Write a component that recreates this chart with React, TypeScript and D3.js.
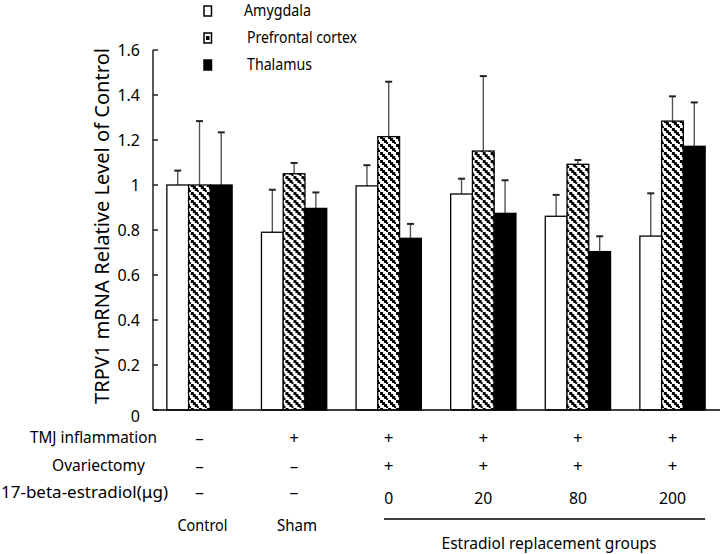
import React from "react";
import * as d3 from "d3";

const groups = ["Control", "Sham", "E0", "E20", "E80", "E200"];
const seriesNames = ["Amygdala", "Prefrontal cortex", "Thalamus"];
const amygdala = [1.0, 0.79, 0.996, 0.96, 0.861, 0.773];
const amygdalaErr = [1.064, 0.979, 1.088, 1.028, 0.956, 0.963];
const prefrontal = [1.0, 1.05, 1.215, 1.151, 1.092, 1.284];
const prefrontalErr = [1.284, 1.098, 1.459, 1.484, 1.111, 1.394];
const thalamus = [1.0, 0.896, 0.763, 0.874, 0.704, 1.172];
const thalamusErr = [1.234, 0.967, 0.827, 1.021, 0.772, 1.367];
const yTicks = [0, 0.2, 0.4, 0.6, 0.8, 1, 1.2, 1.4, 1.6];
const rowLabels = ["TMJ inflammation", "Ovariectomy", "17-beta-estradiol(\u03bcg)"];
const tmjRow = ["\u2013", "+", "+", "+", "+", "+"];
const ovxRow = ["\u2013", "\u2013", "+", "+", "+", "+"];
const doseRow = ["\u2013", "\u2013", "0", "20", "80", "200"];
const groupNames = ["Control", "Sham"];
const bracketLabel = "Estradiol replacement groups";

const values = [amygdala, prefrontal, thalamus];
const errs = [amygdalaErr, prefrontalErr, thalamusErr];

const FONT = "'Noto Sans', 'Open Sans', sans-serif";
const rowLabelStart = [30, 52, 1];
const rowLabelLen = [127, 93, 167];
const rowY = [443, 471, 498];
const legendLen = [67, 110, 65];

export default function App() {
  const W = 720, H = 554;
  const y = d3.scaleLinear().domain([0, 1.6]).range([410, 50]);
  const x = d3.scaleBand<string>().domain(groups).range([152, 720]).paddingInner(0.31).paddingOuter(0.157);
  const xs = d3.scaleBand<string>().domain(seriesNames).range([0, x.bandwidth()]);
  const fills = ["#fff", "url(#hatch)", "#000"];
  const cx = (g: string) => (x(g) as number) + x.bandwidth() / 2;

  return (
    <svg width={W} height={H} style={{ position: "absolute", left: 0, top: 0, background: "#fff" }} fontFamily={FONT}>
      <defs>
        <pattern id="hatch" patternUnits="userSpaceOnUse" width={8} height={8}>
          <rect width={8} height={8} fill="#fff" />
          <rect x={0} y={0} width={3} height={3} fill="#000" />
          <rect x={2} y={2} width={3} height={3} fill="#000" />
          <rect x={4} y={4} width={3} height={3} fill="#000" />
          <rect x={6} y={6} width={2} height={2} fill="#000" />
        </pattern>
      </defs>

      {/* y axis */}
      <line x1={153} x2={153} y1={y(1.6)} y2={y(0)} stroke="#000" strokeWidth={1.3} />
      {yTicks.map((t) => (
        <g key={t}>
          <line x1={153} x2={158} y1={y(t)} y2={y(t)} stroke="#000" strokeWidth={1.3} />
          <text x={140} y={y(t) + (t === 0 ? 12 : 6)} textAnchor="end" fontSize={16}>
            {String(t)}
          </text>
        </g>
      ))}
      <text transform={`translate(109,226) rotate(-90)`} textAnchor="middle" fontSize={20} textLength={356} lengthAdjust="spacingAndGlyphs">
        TRPV1 mRNA Relative Level of Control
      </text>

      {/* bars */}
      {groups.map((g, gi) => (
        <g key={g} transform={`translate(${x(g)},0)`}>
          {seriesNames.map((s, si) => {
            const v = values[si][gi];
            const e = errs[si][gi];
            const bx = xs(s) as number;
            const mid = bx + xs.bandwidth() / 2;
            return (
              <g key={s}>
                <line x1={mid} x2={mid} y1={y(v)} y2={y(e)} stroke="#555" strokeWidth={1.4} />
                <line x1={mid - 3.5} x2={mid + 3.5} y1={y(e)} y2={y(e)} stroke="#222" strokeWidth={2} />
                <rect x={bx} y={y(v)} width={xs.bandwidth()} height={y(0) - y(v)} fill={fills[si]} stroke="#000" strokeWidth={1.3} />
              </g>
            );
          })}
        </g>
      ))}

      {/* x axis */}
      <line x1={153} x2={720} y1={y(0)} y2={y(0)} stroke="#000" strokeWidth={1.5} />

      {/* legend */}
      {seriesNames.map((s, i) => (
        <g key={s}>
          <rect x={204} y={6 + i * 27} width={7.5} height={10} fill={fills[i] === "url(#hatch)" ? "#fff" : fills[i]} stroke="#000" strokeWidth={1.5} />
          {i === 1 && <rect x={206} y={9 + i * 27} width={3.5} height={4} fill="#000" />}
          <text x={i === 0 ? 244 : 247} y={16 + i * 27} fontSize={16} textLength={legendLen[i]} lengthAdjust="spacingAndGlyphs">{s}</text>
        </g>
      ))}

      {/* table */}
      {rowLabels.map((r, i) => (
        <text key={r} x={rowLabelStart[i]} y={rowY[i]} fontSize={17} textLength={rowLabelLen[i]} lengthAdjust="spacingAndGlyphs">{r}</text>
      ))}
      {groups.map((g, gi) => (
        <g key={g}>
          <text x={cx(g)} y={rowY[0] + 1} textAnchor="middle" fontSize={17}>{tmjRow[gi]}</text>
          <text x={cx(g)} y={rowY[1] + 1} textAnchor="middle" fontSize={17}>{ovxRow[gi]}</text>
          <text x={cx(g)} y={doseRow[gi] === "\u2013" ? rowY[2] : rowY[2] + 6} textAnchor="middle" fontSize={16} textLength={doseRow[gi].length * 9} lengthAdjust="spacingAndGlyphs">{doseRow[gi]}</text>
        </g>
      ))}
      {groupNames.map((n, i) => (
        <text key={n} x={cx(groups[i]) + 3} y={531} textAnchor="middle" fontSize={17} textLength={i === 0 ? 50 : 40} lengthAdjust="spacingAndGlyphs">{n}</text>
      ))}
      <line x1={384} x2={(x(groups[5]) as number) + x.bandwidth()} y1={519} y2={519} stroke="#000" strokeWidth={1.3} />
      <text x={549} y={549} textAnchor="middle" fontSize={17} textLength={215} lengthAdjust="spacingAndGlyphs">{bracketLabel}</text>
    </svg>
  );
}
